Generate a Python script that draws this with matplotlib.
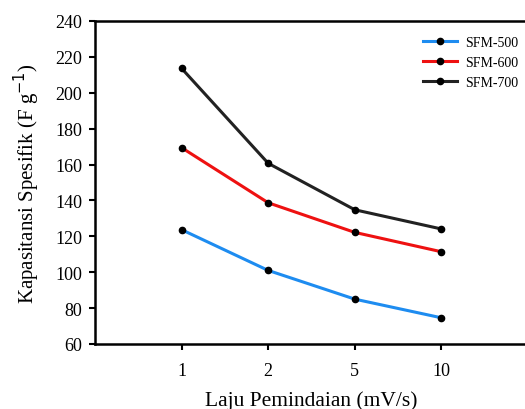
import matplotlib.pyplot as plt

# Data
scan_rates = ['1', '2', '5', '10']
sfm500 = [123.7, 101.0, 85.0, 74.6]
sfm600 = [169.4, 138.7, 122.2, 111.4]
sfm700 = [213.6, 160.7, 134.8, 124.1]
series_names = ['SFM-500', 'SFM-600', 'SFM-700']
series_colors = ['#1e8cf0', '#ee1111', '#222222']

plt.rcParams['font.family'] = 'Liberation Serif'

fig = plt.figure(figsize=(5.25, 4.1), dpi=100)
ax = fig.add_axes([95 / 525, 1 - 345 / 410, 433 / 525, 323 / 410])

x = range(len(scan_rates))
for vals, name, col in zip([sfm500, sfm600, sfm700], series_names, series_colors):
    ax.plot(x, vals, color=col, lw=2.2, marker='o', ms=4.5,
            mfc='black', mec='black', label=name)

ax.set_xlim(-1, 4)
ax.set_ylim(60, 240)
ax.set_xticks(list(x))
ax.set_xticklabels(scan_rates)
ax.set_yticks(range(60, 241, 20))
ax.tick_params(labelsize=13, width=1.5, length=4, direction='out')
ax.tick_params(axis='x', pad=9)
ax.tick_params(axis='y', pad=5)
for s in ax.spines.values():
    s.set_linewidth(1.8)

ax.set_xlabel('Laju Pemindaian (mV/s)', fontsize=15.5, labelpad=8)
ax.set_ylabel('Kapasitansi Spesifik (F g$^{-1}$)', fontsize=15, labelpad=10)

ax.legend(loc='upper right', bbox_to_anchor=(518 / 525, 1 - 37 / 410),
          bbox_transform=fig.transFigure, frameon=False, fontsize=10,
          handlelength=2.5, handletextpad=0.55, labelspacing=0.5,
          borderpad=0, borderaxespad=0)

fig.savefig('out.png', dpi=100)
